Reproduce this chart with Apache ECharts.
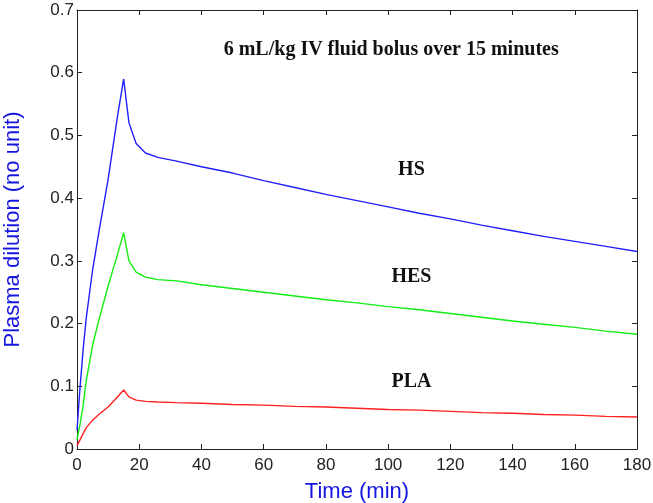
<!DOCTYPE html>
<html>
<head>
<meta charset="utf-8">
<script src="https://cdn.jsdelivr.net/npm/echarts@6/dist/echarts.min.js"></script>
<style>html,body{margin:0;padding:0;background:#fff;}#c{width:653px;height:503px;}</style>
</head>
<body>
<div id="c"></div>
<script>
var time = [0, 1, 2, 3, 5, 7, 10, 13, 15, 16.7, 19, 22, 26, 32, 40, 50, 60, 70, 80, 90, 100, 110, 120, 130, 140, 150, 160, 170, 180];
var hs  = [0.03, 0.10, 0.16, 0.21, 0.285, 0.345, 0.43, 0.53, 0.59, 0.52, 0.487, 0.472, 0.465, 0.459, 0.450, 0.440, 0.428, 0.417, 0.406, 0.396, 0.386, 0.376, 0.367, 0.357, 0.348, 0.339, 0.331, 0.323, 0.315];
var hes = [0.015, 0.04, 0.07, 0.11, 0.165, 0.205, 0.26, 0.31, 0.345, 0.30, 0.282, 0.274, 0.270, 0.268, 0.262, 0.256, 0.250, 0.244, 0.238, 0.233, 0.227, 0.222, 0.216, 0.210, 0.204, 0.199, 0.194, 0.188, 0.183];
var pla = [0.005, 0.015, 0.025, 0.034, 0.046, 0.055, 0.067, 0.083, 0.094, 0.083, 0.078, 0.076, 0.075, 0.074, 0.073, 0.071, 0.070, 0.068, 0.067, 0.065, 0.063, 0.062, 0.060, 0.058, 0.057, 0.055, 0.054, 0.052, 0.051];
var seriesNames = ['HS', 'HES', 'PLA'];
var annotations = [
  {text: '6 mL/kg IV fluid bolus over 15 minutes', x: 101, y: 0.637},
  {text: 'HS', x: 107.5, y: 0.445},
  {text: 'HES', x: 107.5, y: 0.275},
  {text: 'PLA', x: 107.5, y: 0.1065}
];
function zip(t, v){ return t.map(function(x,i){ return [x, v[i]]; }); }

var chart = echarts.init(document.getElementById('c'), null, {renderer:'canvas'});
var axisLine = {show:true, onZero:false, lineStyle:{color:'#222', width:1}};
var tick = {show:true, inside:true, length:5, lineStyle:{color:'#222'}};
var tickFont = {color:'#222', fontSize:17, fontFamily:'Liberation Sans, Arial, sans-serif'};
var nameFont = {color:'#1515e0', fontSize:22, fontFamily:'Liberation Sans, Arial, sans-serif'};
var annoFont = {fontFamily:'Liberation Serif, Times New Roman, serif', fontWeight:'bold', fontSize:20, color:'#111'};
chart.setOption({
  animation:false,
  backgroundColor:'#fff',
  grid:{left:77, right:16, top:10, bottom:54, containLabel:false, outerBoundsMode:'none'},
  xAxis:[{
    type:'value', min:0, max:180, interval:20,
    axisLine:axisLine, axisTick:tick,
    axisLabel:Object.assign({margin:8}, tickFont),
    splitLine:{show:false},
    name:'Time (min)', nameLocation:'middle', nameGap:32,
    nameTextStyle:nameFont
  },{
    type:'value', min:0, max:180, interval:20, position:'top',
    axisLine:axisLine, axisTick:tick,
    axisLabel:{show:false}, splitLine:{show:false}
  }],
  yAxis:[{
    type:'value', min:0, max:0.7, interval:0.1,
    axisLine:axisLine, axisTick:tick,
    axisLabel:Object.assign({margin:3, formatter:function(v){ return (Math.round(v*10)/10).toString(); }}, tickFont),
    splitLine:{show:false},
    name:'Plasma dilution (no unit)', nameLocation:'middle', nameGap:53, nameRotate:90,
    nameTextStyle:nameFont
  },{
    type:'value', min:0, max:0.7, interval:0.1, position:'right',
    axisLine:axisLine, axisTick:tick,
    axisLabel:{show:false}, splitLine:{show:false}
  }],
  series:[
    {name:seriesNames[0], type:'line', data:zip(time, hs), symbol:'none', lineStyle:{color:'#2020ff', width:1.4}},
    {name:seriesNames[1], type:'line', data:zip(time, hes), symbol:'none', lineStyle:{color:'#11ee11', width:1.4}},
    {name:seriesNames[2], type:'line', data:zip(time, pla), symbol:'none', lineStyle:{color:'#ff2020', width:1.4},
     markPoint:{
       symbol:'circle', symbolSize:0, silent:true,
       label:Object.assign({show:true, position:'inside', formatter:function(p){ return p.name; }}, annoFont),
       data:annotations.map(function(a){ return {name:a.text, coord:[a.x, a.y]}; })
     }}
  ]
});
</script>
</body>
</html>
